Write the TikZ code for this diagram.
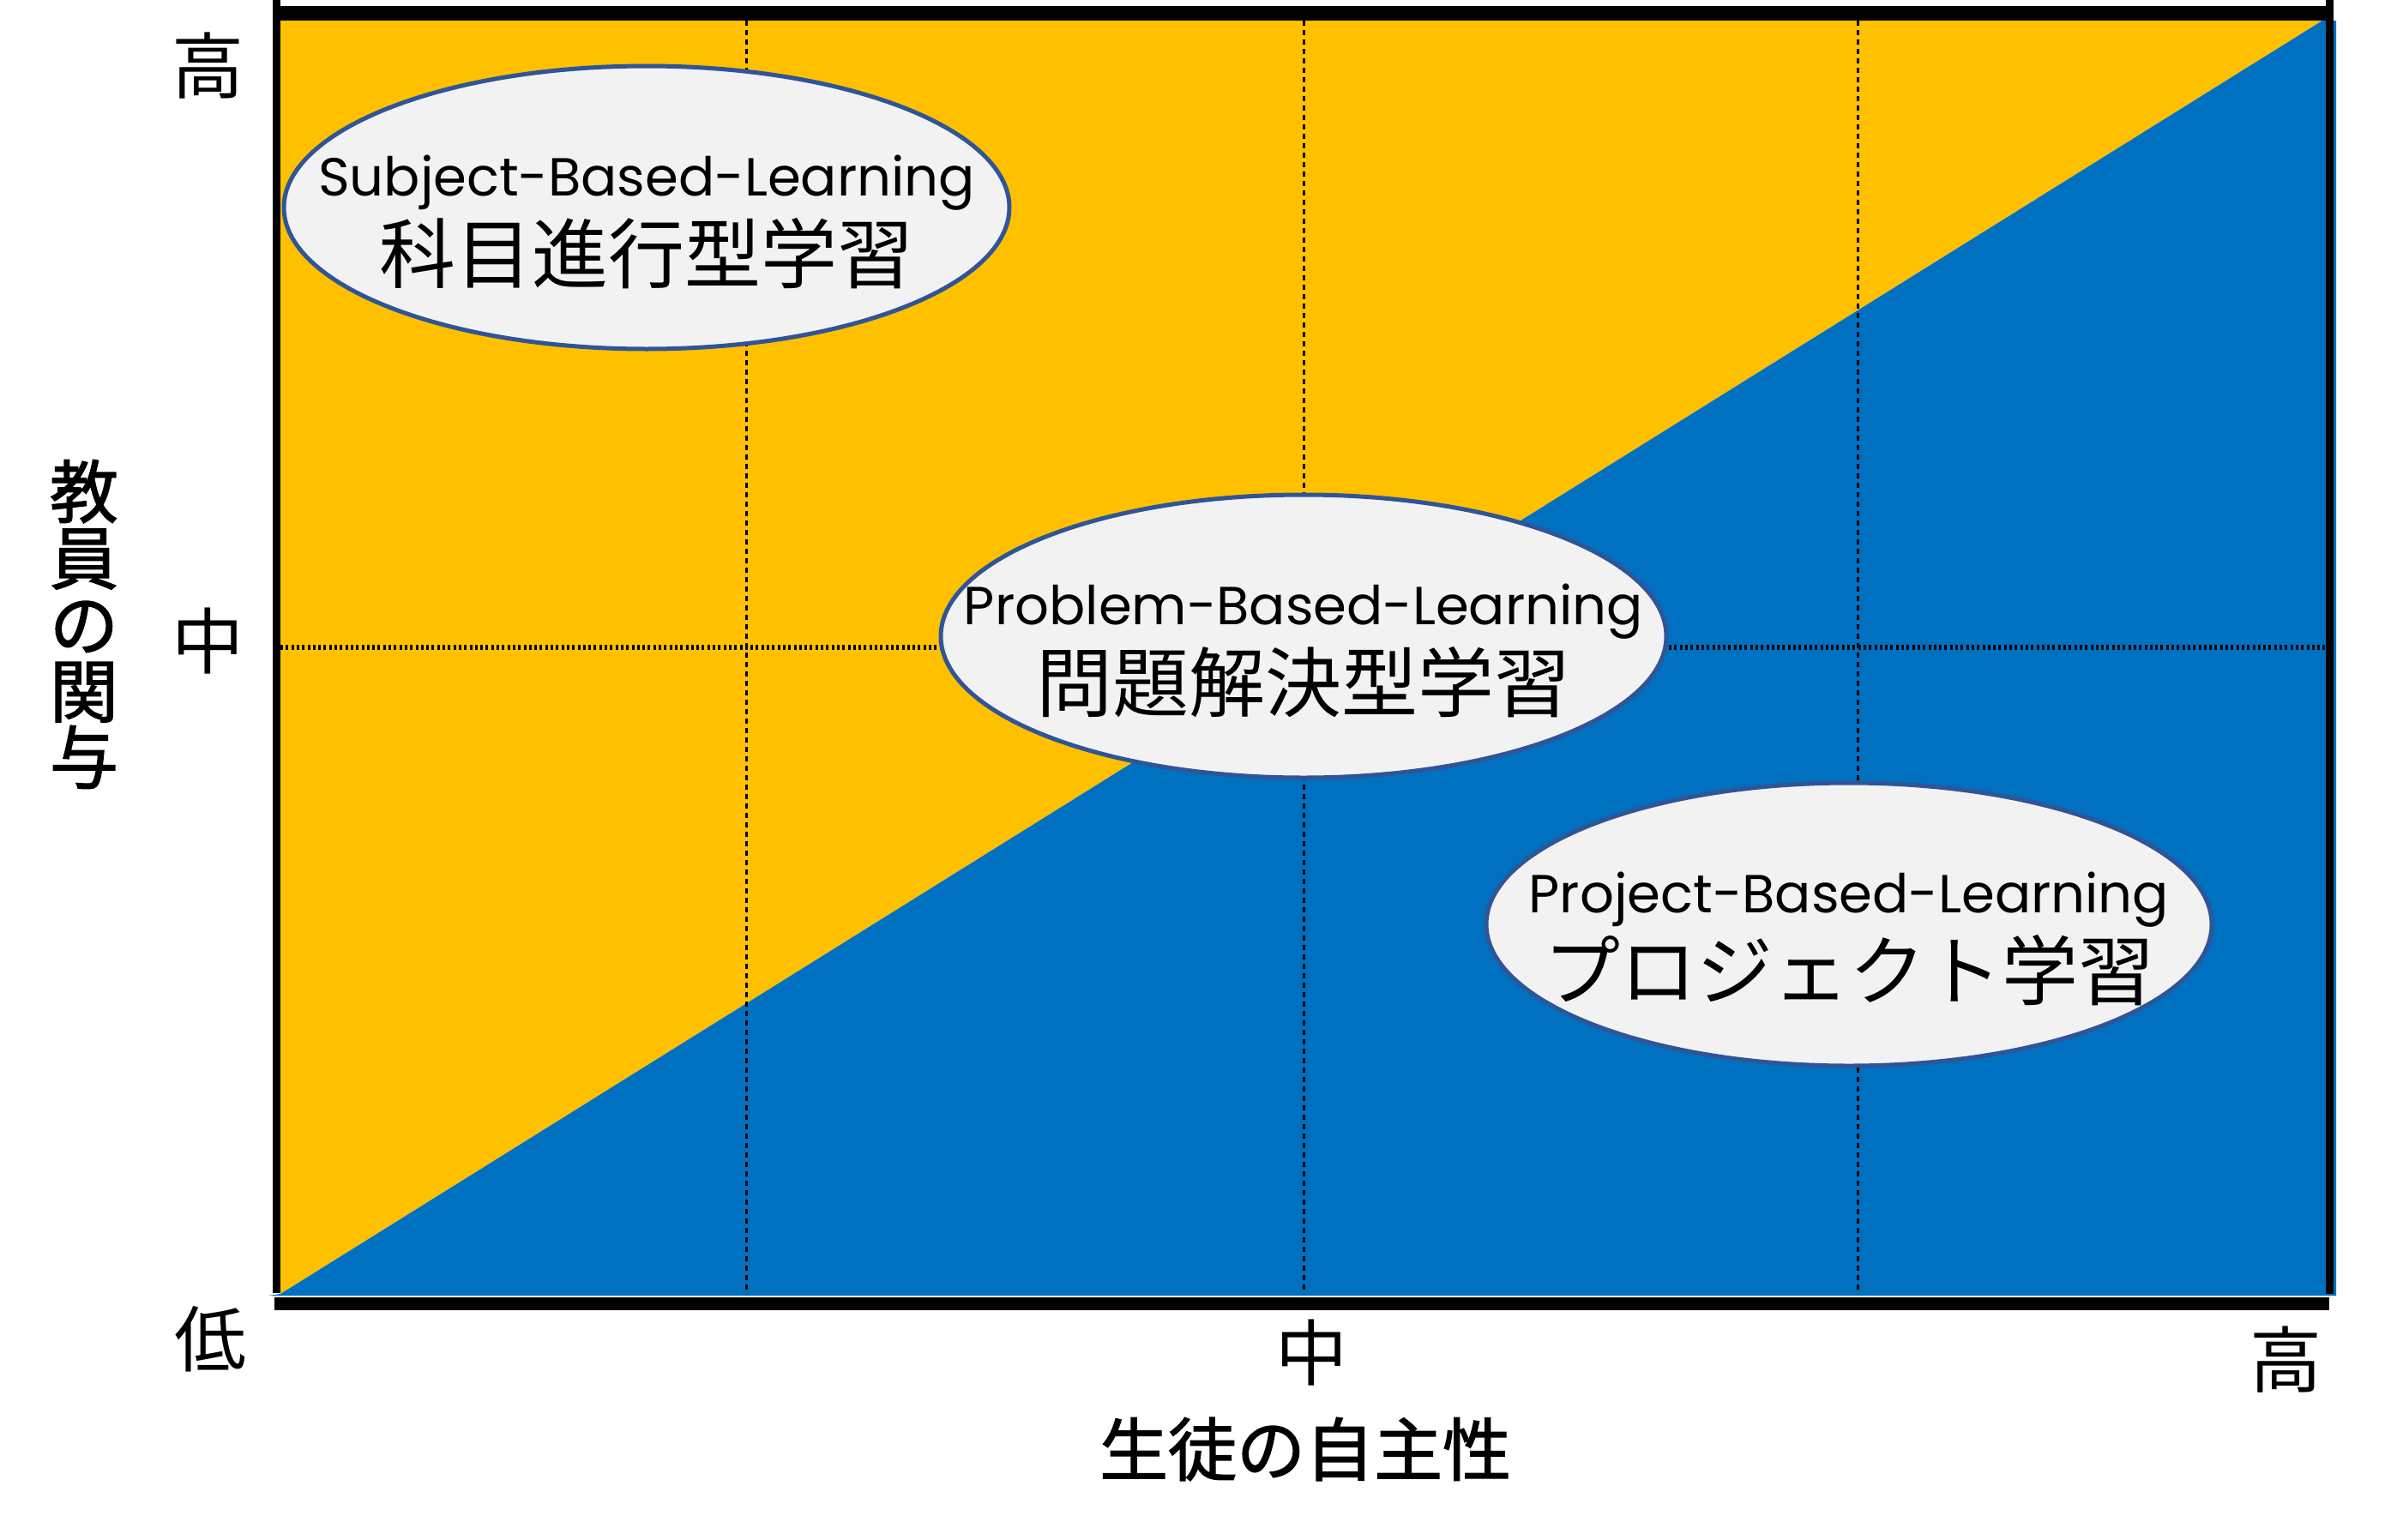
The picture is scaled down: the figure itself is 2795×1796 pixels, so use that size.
\documentclass[tikz,border=0pt]{standalone}
\usepackage{fontspec}
\setmainfont{Noto Sans CJK JP}
\newfontfamily\latinfont{Poppins}
\newfontface\titlefont{Noto Sans CJK JP}[FakeBold=1.6]
\usetikzlibrary{shapes.geometric}
\definecolor{ylw}{HTML}{FFC000}
\definecolor{blu}{HTML}{0070C0}
\definecolor{bubfill}{HTML}{F2F2F2}
\definecolor{bubline}{HTML}{2F5597}
\begin{document}
\begin{tikzpicture}[x=1pt,y=-1pt,
  bubble/.style={ellipse, draw=bubline, line width=5pt, fill=bubfill,
    minimum width=846pt, minimum height=330pt, inner sep=0pt},
  entext/.style={font=\latinfont\fontsize{62.5}{62.5}\selectfont, anchor=base, inner sep=0pt},
  jatext/.style={font=\fontsize{89}{89}\selectfont, anchor=base, inner sep=0pt},
  ticklabel/.style={font=\fontsize{84}{84}\selectfont, inner sep=0pt},
  axtitle/.style={font=\titlefont\fontsize{80}{77.5}\selectfont, inner sep=0pt},
  gridv/.style={line width=3pt, dash pattern=on 6pt off 5pt},
  gridh/.style={line width=6pt, dash pattern=on 3pt off 3.3pt},
  frameline/.style={line width=9pt}]
\useasboundingbox (0,0) rectangle (2795,1796);
% plot corners
\coordinate (TL) at (327,24);
\coordinate (TR) at (2712,24);
\coordinate (BR) at (2712,1509);
\coordinate (BL) at (327,1509);
\coordinate (DT) at (2708,24);
% fills
\fill[ylw] (TL) -- (DT) -- (BL) -- cycle;
\fill[blu] (DT) -- (2724,24) -- (2724,1511) -- (313,1511) -- (BL) -- cycle;
% grid
\foreach \gx/\nm in {870/ga,1520/gb,2166/gc}{
  \coordinate (\nm t) at (\gx,24);
  \coordinate (\nm b) at (\gx,1509);
  \draw[gridv] (\nm t) -- (\nm b);
}
\coordinate (hl) at (327,755);
\coordinate (hr) at (2712,755);
\draw[gridh] (hl) -- (hr);
% frame
\coordinate (ft1) at (318,15.5);
\coordinate (ft2) at (2721,15.5);
\coordinate (fl1) at (322.5,0);
\coordinate (fl2) at (322.5,1508);
\coordinate (fr1) at (2716.5,0);
\coordinate (fr2) at (2716.5,1509);
\coordinate (fb1) at (320,1520.5);
\coordinate (fb2) at (2716,1520.5);
\draw[line width=17pt] (ft1) -- (ft2);
\draw[frameline] (fl1) -- (fl2);
\draw[frameline] (fr1) -- (fr2);
\draw[line width=15pt] (fb1) -- (fb2);
% bubbles
\node[bubble] (sbl) at (754,242) {};
\node[entext] (sblen) at ([yshift=14pt]sbl.center) {Subject-Based-Learning};
\node[jatext] (sblja) at ([yshift=-87pt]sbl.center) {科目進行型学習};
\node[bubble] (pbl) at (1520,742) {};
\node[entext] (pblen) at ([yshift=14pt]pbl.center) {Problem-Based-Learning};
\node[jatext] (pblja) at ([yshift=-87pt]pbl.center) {問題解決型学習};
\node[bubble] (pjbl) at (2156,1078) {};
\node[entext] (pjblen) at ([yshift=14pt]pjbl.center) {Project-Based-Learning};
\node[jatext] (pjblja) at ([yshift=-87pt]pjbl.center) {プロジェクト学習};
% axis labels
\node[ticklabel] (yhi) at (242,77) {高};
\node[ticklabel] (ymid) at (242,748) {中};
\node[ticklabel] (lo) at (245,1562) {低};
\node[ticklabel] (xmid) at (1529,1578) {中};
\node[ticklabel] (xhi) at (2665,1586) {高};
\node[axtitle] (xtitle) at (1522,1690) {生徒の自主性};
\node[axtitle, align=center] (ytitle) at (98,728) {教\\員\\の\\関\\与};
\end{tikzpicture}
\end{document}
